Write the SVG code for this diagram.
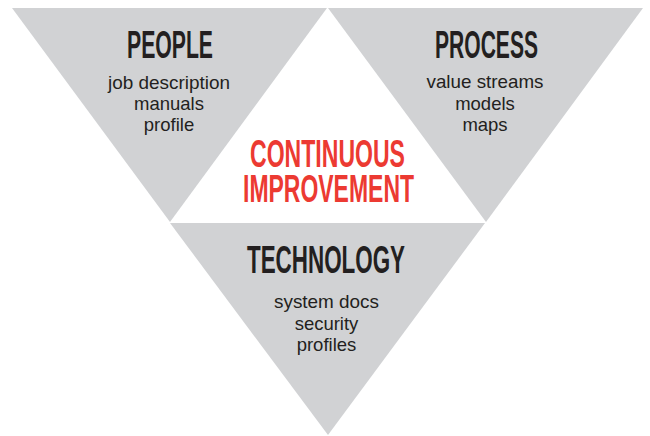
<svg xmlns="http://www.w3.org/2000/svg" width="650" height="436" viewBox="0 0 650 436">
<style>
.tri{fill:#d1d2d4}
.h{font-family:"Liberation Sans Narrow","Liberation Sans",Arial,sans-serif;font-size:39px;font-weight:bold;fill:#231f20;text-anchor:middle}
.b{font-family:"Liberation Sans",Arial,sans-serif;font-size:18.5px;fill:#231f20;text-anchor:middle}
.c{font-family:"Liberation Sans Narrow","Liberation Sans",Arial,sans-serif;font-size:39px;font-weight:bold;fill:#ec3a32;text-anchor:middle}
</style>
<rect width="650" height="436" fill="#fff"/>
<g id="people">
<polygon class="tri" points="12,8 327,8 170,222"/>
<text class="h" x="170" y="58" textLength="86" lengthAdjust="spacingAndGlyphs">PEOPLE</text>
<text class="b" x="169" y="89" textLength="122" lengthAdjust="spacingAndGlyphs">job description</text>
<text class="b" x="169" y="110">manuals</text>
<text class="b" x="169" y="131">profile</text>
</g>
<g id="process">
<polygon class="tri" points="328,8 643,8 486,222"/>
<text class="h" x="486.5" y="58" textLength="103" lengthAdjust="spacingAndGlyphs">PROCESS</text>
<text class="b" x="485" y="88" textLength="117" lengthAdjust="spacingAndGlyphs">value streams</text>
<text class="b" x="485" y="110">models</text>
<text class="b" x="485" y="131">maps</text>
</g>
<g id="technology">
<polygon class="tri" points="170,223 485,223 328,435"/>
<text class="h" x="326" y="273" textLength="158" lengthAdjust="spacingAndGlyphs">TECHNOLOGY</text>
<text class="b" x="326.5" y="308" textLength="105" lengthAdjust="spacingAndGlyphs">system docs</text>
<text class="b" x="326.5" y="330">security</text>
<text class="b" x="326.5" y="351">profiles</text>
</g>
<g id="continuous-improvement">
<text class="c" x="327.5" y="167" textLength="155" lengthAdjust="spacingAndGlyphs">CONTINUOUS</text>
<text class="c" x="328.5" y="202" textLength="171" lengthAdjust="spacingAndGlyphs">IMPROVEMENT</text>
</g>
</svg>
